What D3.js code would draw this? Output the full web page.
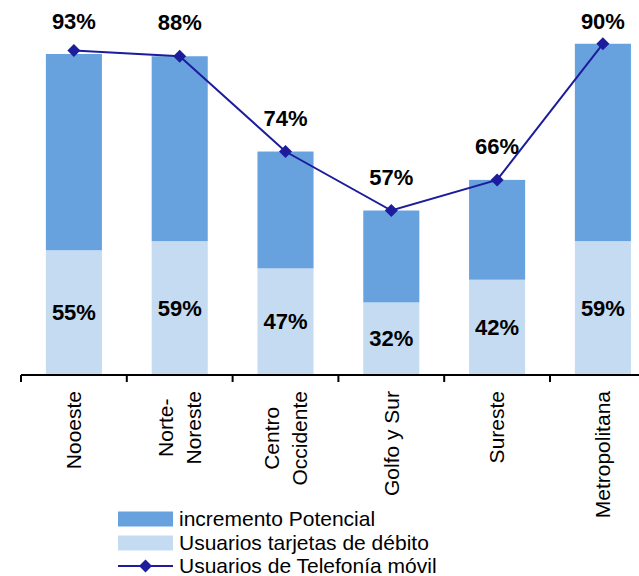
<!DOCTYPE html>
<html>
<head>
<meta charset="utf-8">
<script src="https://cdn.jsdelivr.net/npm/d3@7"></script>
<style>
  html, body { margin: 0; padding: 0; background: #fff; }
  svg { display: block; }
  text { font-family: "Liberation Sans", Arial, sans-serif; fill: #000; }
</style>
</head>
<body>
<svg id="chart" width="639" height="576"></svg>
<script>
// ---- Data ----
const categories = ["Nooeste", "Norte-\nNoreste", "Centro\nOccidente", "Golfo y Sur", "Sureste", "Metropolitana"];
const debito = [55, 59, 47, 32, 42, 59];                 // Usuarios tarjetas de débito (%)
const incremento = [86.5, 81.5, 51.5, 40.5, 44, 87];     // incremento Potencial (stacked on top)
const movilLabels = [93, 88, 74, 57, 66, 90];            // Usuarios de Telefonía móvil (%) – labels
const movilPlot = [143, 140.5, 98.5, 72.5, 86, 146];     // line as drawn on the chart's scale
const legendLabels = ["incremento Potencial", "Usuarios tarjetas de débito", "Usuarios de Telefonía móvil"];

const colorInc = "#67A2DF";
const colorDeb = "#C5DBF2";
const colorLine = "#1C1C9C";

const svg = d3.select("#chart");

const x = d3.scaleBand().domain(categories).range([21, 21 + 6 * 105.8]).padding(0);
const y = d3.scaleLinear().domain([0, 160]).range([375, 12]);
const bw = x.bandwidth() * 0.53;
const bOff = (x.bandwidth() - bw) / 2;

const data = categories.map((c, i) => ({
  c, deb: debito[i], inc: incremento[i], lab: movilLabels[i], plot: movilPlot[i]
}));

// Bars: light (debit) bottom, darker (incremento) on top
svg.append("g").selectAll("rect").data(data).join("rect")
  .attr("x", d => x(d.c) + bOff)
  .attr("width", bw)
  .attr("y", d => y(d.deb))
  .attr("height", d => y(0) - y(d.deb))
  .attr("fill", colorDeb);

svg.append("g").selectAll("rect").data(data).join("rect")
  .attr("x", d => x(d.c) + bOff)
  .attr("width", bw)
  .attr("y", d => y(d.deb + d.inc))
  .attr("height", d => y(d.deb) - y(d.deb + d.inc))
  .attr("fill", colorInc);

// Debit labels
svg.append("g").selectAll("text").data(data).join("text")
  .attr("x", d => x(d.c) + x.bandwidth() / 2)
  .attr("y", d => (y(d.deb) + y(0)) / 2)
  .attr("dy", "0.35em")
  .attr("text-anchor", "middle")
  .style("font-size", "22px")
  .style("font-weight", "bold")
  .text(d => d.deb + "%");

// Axis
const axisG = svg.append("g");
axisG.append("line")
  .attr("x1", x.range()[0]).attr("x2", x.range()[1])
  .attr("y1", y(0)).attr("y2", y(0))
  .attr("stroke", "#000").attr("stroke-width", 2);
axisG.selectAll("line.tick").data(categories).join("line")
  .attr("class", "tick")
  .attr("x1", d => x(d)).attr("x2", d => x(d))
  .attr("y1", y(0)).attr("y2", y(0) + 7)
  .attr("stroke", "#000").attr("stroke-width", 2);

// Category labels (rotated)
const catG = svg.append("g");
categories.forEach(c => {
  const lines = c.split("\n");
  const cx = x(c) + x.bandwidth() / 2;
  const g = catG.append("g").attr("transform", `translate(${cx},391) rotate(-90)`);
  const lh = 28.5;
  const texts = lines.map((ln, j) => g.append("text")
    .attr("y", (j - (lines.length - 1) / 2) * lh)
    .attr("dy", "0.35em")
    .style("font-size", "21px")
    .text(ln));
  if (lines.length === 1) {
    texts[0].attr("text-anchor", "end").attr("x", 0);
  } else {
    const maxLen = d3.max(texts, t => t.node().getComputedTextLength());
    texts.forEach(t => t.attr("text-anchor", "middle").attr("x", -maxLen / 2));
  }
});

// Line series
const line = d3.line()
  .x(d => x(d.c) + x.bandwidth() / 2)
  .y(d => y(d.plot));
svg.append("path").datum(data)
  .attr("d", line)
  .attr("fill", "none")
  .attr("stroke", colorLine)
  .attr("stroke-width", 2);

const diamond = "M0,-6.5L6.5,0L0,6.5L-6.5,0Z";
svg.append("g").selectAll("path").data(data).join("path")
  .attr("d", diamond)
  .attr("transform", d => `translate(${x(d.c) + x.bandwidth() / 2},${y(d.plot)})`)
  .attr("fill", colorLine);

// Line labels
svg.append("g").selectAll("text").data(data).join("text")
  .attr("x", d => x(d.c) + x.bandwidth() / 2)
  .attr("y", d => Math.max(29, y(d.plot) - 26))
  .attr("text-anchor", "middle")
  .style("font-size", "22px")
  .style("font-weight", "bold")
  .text(d => d.lab + "%");

// Legend
const lg = svg.append("g").attr("transform", "translate(118,0)");
const rowY = [519, 543, 566];
lg.append("rect").attr("x", 0).attr("y", rowY[0] - 7.5).attr("width", 55).attr("height", 15).attr("fill", colorInc);
lg.append("rect").attr("x", 0).attr("y", rowY[1] - 7.5).attr("width", 55).attr("height", 15).attr("fill", colorDeb);
lg.append("line").attr("x1", 0).attr("x2", 55).attr("y1", rowY[2]).attr("y2", rowY[2])
  .attr("stroke", colorLine).attr("stroke-width", 2);
lg.append("path").attr("d", diamond).attr("transform", `translate(27.5,${rowY[2]})`).attr("fill", colorLine);
lg.selectAll("text").data(legendLabels).join("text")
  .attr("x", 61)
  .attr("y", (d, i) => rowY[i])
  .attr("dy", "0.35em")
  .style("font-size", "21px")
  .text(d => d);
</script>
</body>
</html>
